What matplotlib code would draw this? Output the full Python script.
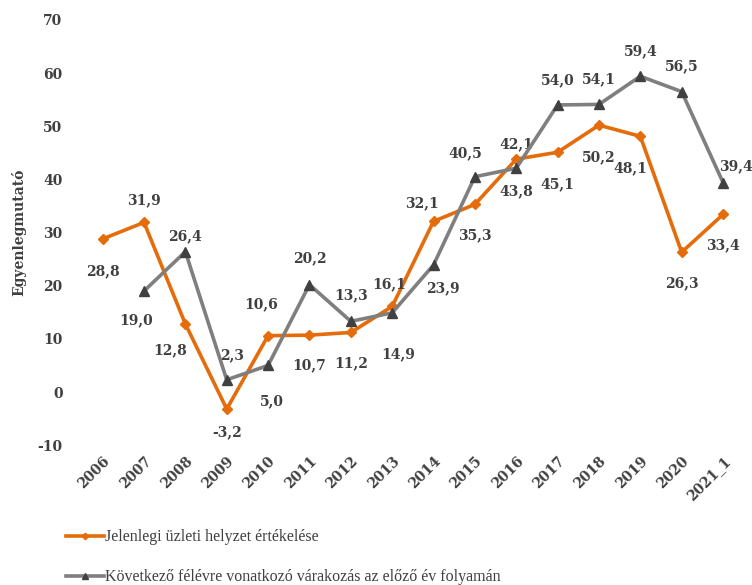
import matplotlib
matplotlib.use("Agg")
import matplotlib.pyplot as plt

years = ["2006", "2007", "2008", "2009", "2010", "2011", "2012", "2013",
         "2014", "2015", "2016", "2017", "2018", "2019", "2020", "2021_1"]
current = [28.8, 31.9, 12.8, -3.2, 10.6, 10.7, 11.2, 16.1,
           32.1, 35.3, 43.8, 45.1, 50.2, 48.1, 26.3, 33.4]
expected = [None, 19.0, 26.4, 2.3, 5.0, 20.2, 13.3, 14.9,
            23.9, 40.5, 42.1, 54.0, 54.1, 59.4, 56.5, 39.4]
label_current = "Jelenlegi üzleti helyzet értékelése"
label_expected = "Következő félévre vonatkozó várakozás az előző év folyamán"

# label offsets in points (dx, dy)
off_current = [(0, -23), (0, 16), (-11, -19), (0, -17), (-5, 23), (0, -22), (0, -22), (-2, 16),
               (-8, 13), (0, -22), (0, -23), (0, -23), (0, -23), (-7, -23), (0, -22), (0, -22)]
off_expected = [None, (-6, -21), (0, 11), (4, 18), (3, -26), (0, 19), (0, 19), (4, -30),
                (7, -17), (-7, 17), (0, 17), (0, 18), (0, 18), (0, 18), (0, 18), (9, 12)]

orange = "#E46C0A"
grey = "#7F7F7F"
dark = "#404040"
plt.rcParams["font.family"] = ["DejaVu Serif"]
plt.rcParams["axes.unicode_minus"] = False

fig = plt.figure(figsize=(7.52, 5.85), dpi=100)
ax = fig.add_axes([0.109, 0.239, 0.88, 0.727])
x = list(range(len(years)))

ax.plot(x, current, color=orange, lw=2.6, marker="D", ms=5.5, zorder=3, label=label_current)
xe = [i for i, v in zip(x, expected) if v is not None]
ye = [v for v in expected if v is not None]
ax.plot(xe, ye, color=grey, lw=2.6, marker="^", ms=7.5, mfc=dark, mec=dark, zorder=4,
        label=label_expected)

for i, v in enumerate(current):
    ax.annotate(f"{v:.1f}".replace(".", ","), (i, v), xytext=off_current[i],
                textcoords="offset points", ha="center", va="center",
                fontsize=10, fontweight="bold", color=dark)
for i, v in enumerate(expected):
    if v is None:
        continue
    ax.annotate(f"{v:.1f}".replace(".", ","), (i, v), xytext=off_expected[i],
                textcoords="offset points", ha="center", va="center",
                fontsize=10, fontweight="bold", color=dark)

ax.set_xlim(-0.5, len(years) - 0.5)
ax.set_ylim(-10, 70)
ax.set_yticks(range(-10, 71, 10))
ax.set_xticks(x)
ax.set_xticklabels(years, rotation=45, ha="right", va="top", rotation_mode="anchor")
for lab in ax.get_xticklabels() + ax.get_yticklabels():
    lab.set_fontweight("bold")
    lab.set_fontsize(10)
    lab.set_color(dark)
ax.tick_params(axis="x", length=0, pad=6)
ax.tick_params(axis="y", length=0, pad=14)
for s in ax.spines.values():
    s.set_visible(False)
ax.set_ylabel("Egyenlegmutató", fontsize=10, fontweight="bold", color=dark, labelpad=8)

fig.legend(loc="upper left", bbox_to_anchor=(0.068, 0.12), frameon=False,
           prop={"family": "Liberation Serif", "size": 11.5}, labelspacing=1.5,
           handlelength=2.4, handletextpad=0.05, labelcolor=dark, markerscale=0.6)

fig.savefig("out.png", dpi=100)
